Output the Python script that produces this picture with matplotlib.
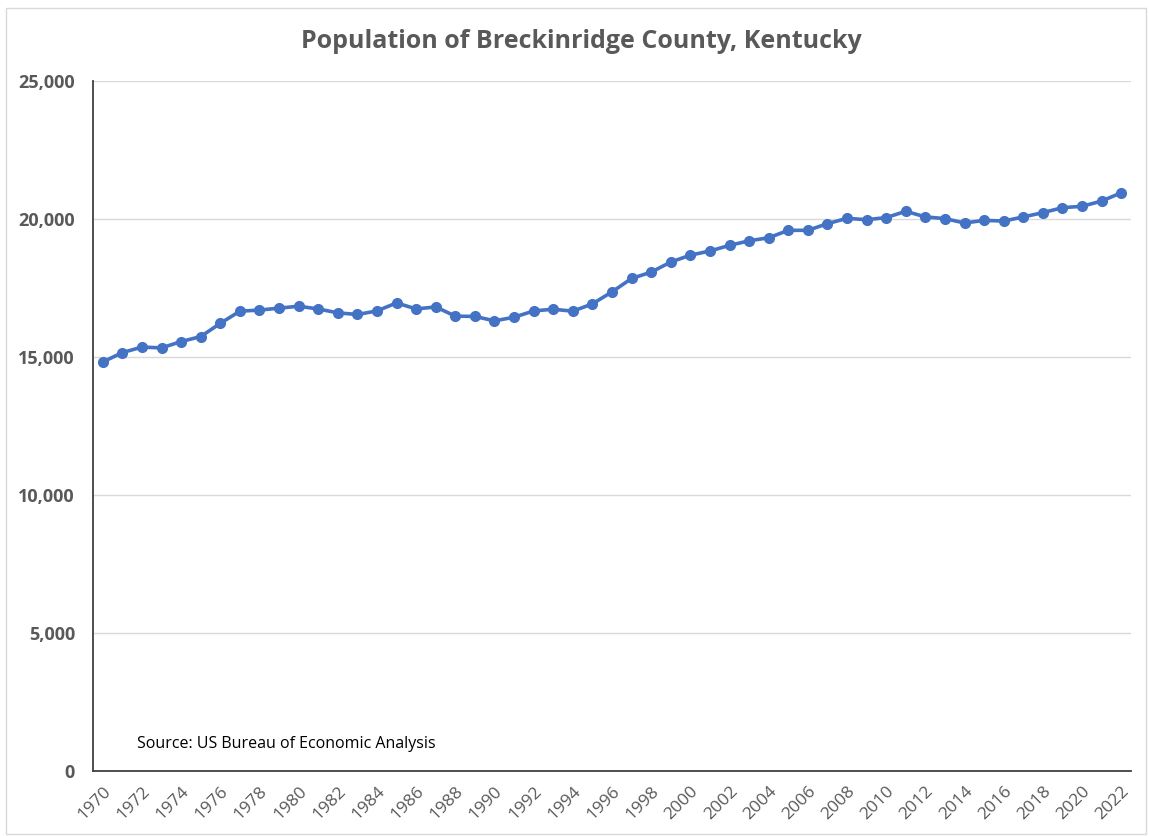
import matplotlib
matplotlib.use("Agg")
import matplotlib.pyplot as plt
from matplotlib.patches import Rectangle
from matplotlib.ticker import FuncFormatter

years = list(range(1970, 2023))
population = [
    14820, 15160, 15360, 15330, 15560, 15740, 16220, 16660, 16700, 16770,
    16840, 16740, 16600, 16540, 16670, 16960, 16740, 16815, 16480, 16470,
    16310, 16440, 16670, 16730, 16660, 16925, 17360, 17845, 18075, 18440,
    18690, 18840, 19045, 19210, 19320, 19590, 19590, 19830, 20025, 19975,
    20050, 20280, 20075, 20015, 19855, 19950, 19925, 20075, 20230, 20410,
    20460, 20650, 20950,
]
tick_years = list(range(1970, 2023, 2))
y_ticks = [0, 5000, 10000, 15000, 20000, 25000]

title = "Population of Breckinridge County, Kentucky"
source = "Source: US Bureau of Economic Analysis"

plt.rcParams['font.family'] = ['Open Sans', 'DejaVu Sans']
text_gray = "#595959"
line_blue = "#4472C4"

fig = plt.figure(figsize=(11.49, 8.36), dpi=100)
fig.patches.append(Rectangle((6 / 1149, 1 - 834 / 836), 1140 / 1149, 826 / 836,
                             transform=fig.transFigure, fill=False,
                             edgecolor="#d9d9d9", linewidth=1.0))

ax = fig.add_axes([93 / 1149, 1 - 771 / 836, (1131 - 93) / 1149, (771 - 81) / 836])
ax.plot(years, population, color=line_blue, linewidth=2.6,
        marker="o", markersize=7, markerfacecolor=line_blue,
        markeredgecolor=line_blue, zorder=3)

ax.set_xlim(1969.5, 2022.5)
ax.set_ylim(0, 25000)
ax.set_yticks(y_ticks)
ax.yaxis.set_major_formatter(FuncFormatter(lambda v, p: f"{int(v):,}"))
ax.set_xticks(tick_years)
ax.set_xticklabels([str(y) for y in tick_years], rotation=45, ha="right",
                   rotation_mode="anchor", fontsize=12.5, color=text_gray)
for lab in ax.get_yticklabels():
    lab.set_fontweight("bold")
    lab.set_fontsize(13)
    lab.set_color(text_gray)

ax.tick_params(axis="both", length=0)
ax.tick_params(axis="y", pad=13)
ax.tick_params(axis="x", pad=9)

ax.grid(axis="y", color="#d9d9d9", linewidth=1.0)
ax.set_axisbelow(True)
for side in ["top", "right"]:
    ax.spines[side].set_visible(False)
ax.spines["left"].set_color("#404040")
ax.spines["bottom"].set_color("#404040")
ax.spines["left"].set_linewidth(1.3)
ax.spines["bottom"].set_linewidth(1.3)

fig.text(581 / 1149, 1 - 42 / 836, title, ha="center", va="center",
         fontsize=18, fontweight="bold", color=text_gray)
ax.text(137 / 1149, 1 - 744 / 836, source, transform=fig.transFigure,
        ha="left", va="center", fontsize=11.5, color="black")

fig.savefig("out.png", dpi=100, facecolor="white")
